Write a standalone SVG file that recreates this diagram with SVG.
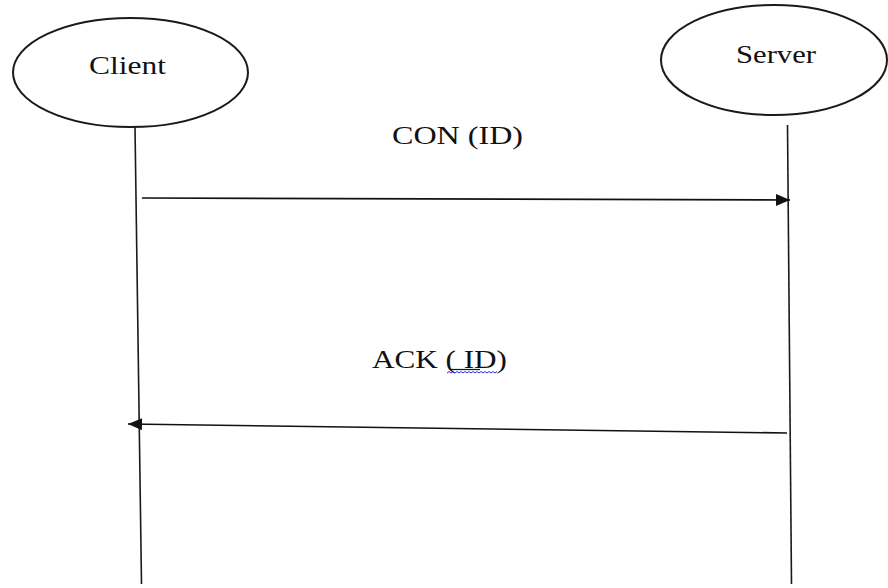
<svg xmlns="http://www.w3.org/2000/svg" width="888" height="588" viewBox="0 0 888 588">
  <style>
    .actor { fill: #ffffff; stroke: #1a1a1a; stroke-width: 2; }
    .label { font-family: "Liberation Serif", "Times New Roman", serif; font-size: 26px; fill: #111111; }
    .lifeline { stroke: #1a1a1a; stroke-width: 1.6; fill: none; }
    .msg { stroke: #111111; stroke-width: 1.6; fill: none; }
  </style>
  <defs>
    <marker id="head" viewBox="0 0 14 12" refX="14" refY="6" markerWidth="14" markerHeight="12" markerUnits="userSpaceOnUse" orient="auto">
      <path d="M0,0 L14,6 L0,12 Z" fill="#111111"/>
    </marker>
  </defs>

  <g id="client">
    <ellipse class="actor" cx="130.5" cy="72.5" rx="117.5" ry="54.5"/>
    <text class="label" x="89" y="74" textLength="77" lengthAdjust="spacingAndGlyphs">Client</text>
  </g>

  <g id="server">
    <ellipse class="actor" cx="774" cy="60" rx="113" ry="55"/>
    <text class="label" x="736" y="63" textLength="80" lengthAdjust="spacingAndGlyphs">Server</text>
  </g>

  <g id="connectors">
    <!-- lifelines -->
    <line class="lifeline" x1="135" y1="127" x2="141.5" y2="584"/>
    <line class="lifeline" x1="787.5" y1="125" x2="791.5" y2="584"/>
    <!-- request -->
    <line class="msg" x1="142" y1="198" x2="790" y2="200" marker-end="url(#head)"/>
    <!-- response -->
    <line class="msg" x1="787" y1="433" x2="128" y2="424" marker-end="url(#head)"/>
  </g>

  <g id="labels">
    <text class="label" x="392" y="144" textLength="131" lengthAdjust="spacingAndGlyphs">CON (ID)</text>
    <text class="label" x="372" y="368" textLength="135" lengthAdjust="spacingAndGlyphs">ACK ( ID)</text>
    <line x1="450" y1="369.5" x2="480" y2="369.5" stroke="#111111" stroke-width="1.2"/>
    <path d="M447,373 l2,-1.5 l2,1.5 l2,-1.5 l2,1.5 l2,-1.5 l2,1.5 l2,-1.5 l2,1.5 l2,-1.5 l2,1.5 l2,-1.5 l2,1.5 l2,-1.5 l2,1.5 l2,-1.5 l2,1.5 l2,-1.5 l2,1.5 l2,-1.5 l2,1.5 l2,-1.5 l2,1.5 l2,-1.5 l2,1.5 l2,-1.5" fill="none" stroke="#2a2aee" stroke-width="1"/>
  </g>
</svg>
